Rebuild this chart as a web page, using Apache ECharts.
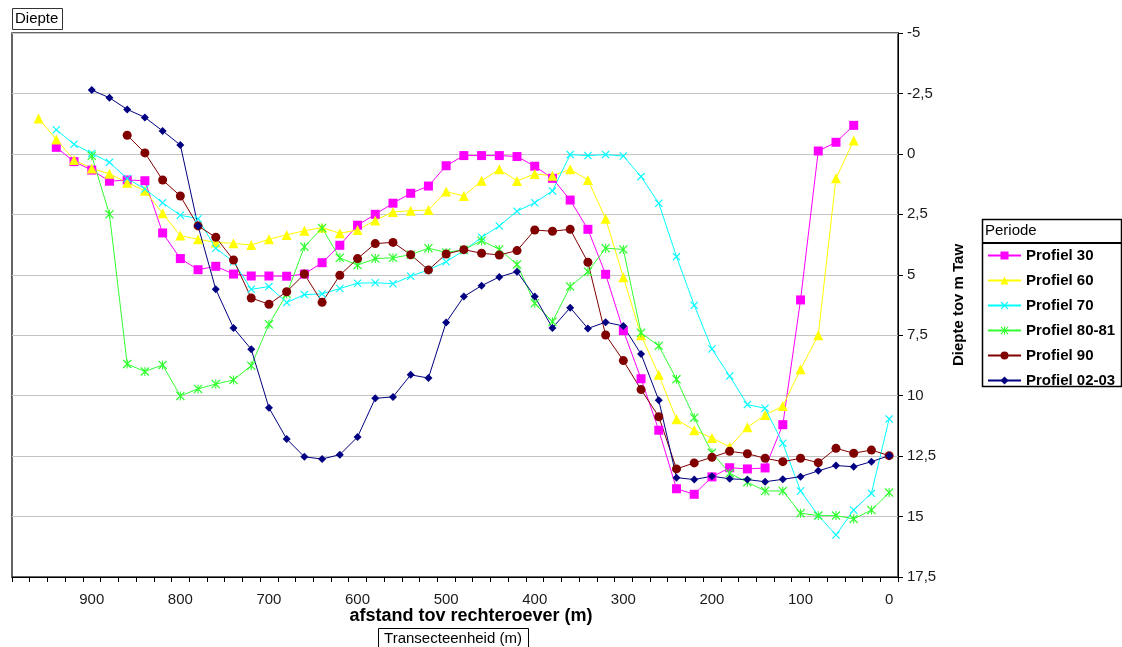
<!DOCTYPE html>
<html>
<head>
<meta charset="utf-8">
<script src="https://cdn.jsdelivr.net/npm/echarts/dist/echarts.min.js"></script>
<style>
html,body{margin:0;padding:0;background:#fff;}
#chart{width:1122px;height:647px;}
</style>
</head>
<body>
<div id="chart"></div>
<script>
// distance from right bank (m), one category per 20 m
var categories = ['980','960','940','920','900','880','860','840','820','800','780','760','740','720','700','680','660','640','620','600','580','560','540','520','500','480','460','440','420','400','380','360','340','320','300','280','260','240','220','200','180','160','140','120','100','80','60','40','20','0'];
var yTicks = [-5, -2.5, 0, 2.5, 5, 7.5, 10, 12.5, 15, 17.5];
var seriesNames = ['Profiel 30','Profiel 60','Profiel 70','Profiel 80-81','Profiel 90','Profiel 02-03'];

var p30 = [null, null, -0.27, 0.32, 0.67, 1.13, 1.08, 1.11, 3.27, 4.33, 4.79, 4.65, 4.97, 5.05, 5.05, 5.06, 4.97, 4.5, 3.78, 2.95, 2.5, 2.04, 1.63, 1.33, 0.49, 0.07, 0.07, 0.07, 0.11, 0.51, 1.01, 1.91, 3.12, 4.98, 7.31, 9.3, 11.43, 13.85, 14.08, 13.36, 12.98, 13.03, 12.99, 11.2, 6.04, -0.12, -0.48, -1.18, null, null];
var p60 = [null, -1.46, -0.6, 0.25, 0.6, 0.82, 1.19, 1.52, 2.46, 3.38, 3.53, 3.66, 3.7, 3.77, 3.53, 3.35, 3.18, 3.05, 3.28, 3.15, 2.75, 2.4, 2.35, 2.32, 1.56, 1.74, 1.11, 0.64, 1.12, 0.83, 0.9, 0.64, 1.08, 2.68, 5.1, 7.5, 9.14, 10.98, 11.43, 11.75, 12.12, 11.31, 10.8, 10.43, 8.91, 7.5, 1.01, -0.55, null, null];
var p70 = [null, null, -1.0, -0.4, -0.02, 0.35, 1.02, 1.45, 2.02, 2.54, 2.68, 3.9, 4.46, 5.6, 5.49, 6.15, 5.82, 5.79, 5.57, 5.35, 5.33, 5.37, 5.06, 4.8, 4.46, 4.0, 3.45, 2.98, 2.37, 2.02, 1.53, 0.03, 0.07, 0.03, 0.09, 0.94, 2.04, 4.25, 6.26, 8.07, 9.19, 10.37, 10.52, 11.97, 13.94, 14.96, 15.76, 14.73, 14.04, 10.96];
var p8081 = [null, null, null, null, 0.08, 2.5, 8.69, 9.0, 8.73, 10.01, 9.72, 9.52, 9.35, 8.76, 7.05, 5.8, 3.84, 3.07, 4.3, 4.6, 4.33, 4.3, 4.17, 3.9, 4.08, 3.96, 3.59, 3.95, 4.57, 6.18, 6.94, 5.49, 4.87, 3.9, 3.95, 7.4, 7.94, 9.32, 10.91, 12.36, 13.21, 13.58, 13.94, 13.94, 14.86, 14.96, 14.96, 15.1, 14.73, 14.01];
var p90 = [null, null, null, null, null, null, -0.77, -0.04, 1.08, 1.74, 2.98, 3.45, 4.39, 5.96, 6.22, 5.7, 4.97, 6.14, 5.02, 4.33, 3.71, 3.66, 4.17, 4.8, 4.14, 3.96, 4.11, 4.18, 4.0, 3.15, 3.2, 3.12, 4.48, 7.49, 8.55, 9.75, 10.87, 13.03, 12.78, 12.55, 12.3, 12.4, 12.59, 12.73, 12.59, 12.77, 12.18, 12.38, 12.25, 12.48];
var p0203 = [null, null, null, null, -2.64, -2.32, -1.84, -1.51, -0.95, -0.37, 2.98, 5.6, 7.2, 8.08, 10.5, 11.79, 12.53, 12.62, 12.44, 11.71, 10.11, 10.05, 9.14, 9.27, 6.97, 5.9, 5.45, 5.09, 4.87, 5.9, 7.2, 6.36, 7.22, 6.96, 7.12, 8.28, 10.19, 13.39, 13.47, 13.33, 13.44, 13.47, 13.56, 13.46, 13.35, 13.11, 12.89, 12.94, 12.73, 12.48];

var FONT = "'Liberation Sans', Arial, sans-serif";
var X_SYM = 'path://M1,0 L5,4 L9,0 L10,1 L6,5 L10,9 L9,10 L5,6 L1,10 L0,9 L4,5 L0,1 Z';
var STAR_SYM = 'path://M1,0 L5,4 L9,0 L10,1 L6,5 L10,9 L9,10 L5,6 L1,10 L0,9 L4,5 L0,1 Z M4.4,0 L5.6,0 L5.6,10 L4.4,10 Z';

var styles = [
  {data: p30, color: '#FF00FF', symbol: 'rect', size: 9},
  {data: p60, color: '#FFFF00', symbol: 'triangle', size: 10},
  {data: p70, color: '#00FFFF', symbol: X_SYM, size: 8},
  {data: p8081, color: '#33FF33', symbol: STAR_SYM, size: 9},
  {data: p90, color: '#800000', symbol: 'circle', size: 9},
  {data: p0203, color: '#000080', symbol: 'diamond', size: 8}
];

var series = styles.map(function (s, i) {
  return {
    name: seriesNames[i],
    type: 'line',
    data: s.data,
    symbol: s.symbol,
    symbolSize: s.size,
    showSymbol: true,
    showAllSymbol: true,
    lineStyle: {color: s.color, width: 1},
    itemStyle: {color: s.color},
    emphasis: {disabled: true}
  };
});

var chart = echarts.init(document.getElementById('chart'), null, {renderer: 'canvas'});
chart.setOption({
  animation: false,
  backgroundColor: '#ffffff',
  grid: {left: 12, right: 224, top: 33, bottom: 70, show: true, borderColor: '#333', borderWidth: 1.5, backgroundColor: 'transparent'},
  xAxis: {
    type: 'category',
    data: categories,
    boundaryGap: true,
    axisLine: {show: true, onZero: false, lineStyle: {color: '#000', width: 1}},
    axisTick: {show: true, interval: 0, length: 5, lineStyle: {color: '#000'}},
    axisLabel: {
      interval: function (idx, val) { return Number(val) % 100 === 0; },
      fontSize: 15, fontFamily: FONT, color: '#1a1a1a', margin: 15
    },
    splitLine: {show: false}
  },
  yAxis: {
    type: 'value',
    position: 'right',
    inverse: true,
    min: yTicks[0],
    max: yTicks[yTicks.length - 1],
    interval: 2.5,
    name: 'Diepte tov m Taw',
    nameLocation: 'middle',
    nameRotate: 90,
    nameGap: 53,
    nameTextStyle: {fontSize: 15, fontWeight: 'bold', fontFamily: FONT, color: '#000'},
    axisLine: {show: true, onZero: false, lineStyle: {color: '#000', width: 1}},
    axisTick: {show: true, length: 5, lineStyle: {color: '#000'}},
    axisLabel: {
      fontSize: 15, fontFamily: FONT, color: '#1a1a1a', margin: 9,
      formatter: function (v) { return String(v).replace('.', ','); }
    },
    splitLine: {show: true, lineStyle: {color: '#c4c4c4', width: 1}}
  },
  legend: {
    data: seriesNames,
    orient: 'vertical',
    left: 987,
    top: 248,
    padding: 0,
    itemWidth: 33,
    itemHeight: 10,
    itemGap: 10,
    textStyle: {fontSize: 15, fontWeight: 'bold', fontFamily: FONT, color: '#000', lineHeight: 14},
    selectedMode: false
  },
  graphic: [
    {type: 'rect', shape: {x: 12.5, y: 8.5, width: 50, height: 21}, style: {fill: '#fff', stroke: '#333', lineWidth: 1}},
    {type: 'text', x: 15, y: 19, style: {text: 'Diepte', fontSize: 15, fontFamily: FONT, fill: '#000', verticalAlign: 'middle'}},
    {type: 'text', x: 471, y: 616, style: {text: 'afstand tov rechteroever (m)', fontSize: 18, fontWeight: 'bold', fontFamily: FONT, fill: '#000', align: 'center', verticalAlign: 'middle'}},
    {type: 'rect', shape: {x: 378.5, y: 628.5, width: 150, height: 22}, style: {fill: '#fff', stroke: '#000', lineWidth: 1}},
    {type: 'text', x: 453, y: 639, style: {text: 'Transecteenheid (m)', fontSize: 15, fontFamily: FONT, fill: '#000', align: 'center', verticalAlign: 'middle'}},
    {type: 'rect', z: -1, shape: {x: 982.5, y: 219.5, width: 139, height: 167}, style: {fill: '#fff', stroke: '#000', lineWidth: 1.5}},
    {type: 'line', shape: {x1: 982.5, y1: 243, x2: 1121.5, y2: 243}, style: {stroke: '#000', lineWidth: 2}},
    {type: 'text', x: 985, y: 231, style: {text: 'Periode', fontSize: 15, fontFamily: FONT, fill: '#000', verticalAlign: 'middle'}}
  ],
  series: series
});
</script>
</body>
</html>
